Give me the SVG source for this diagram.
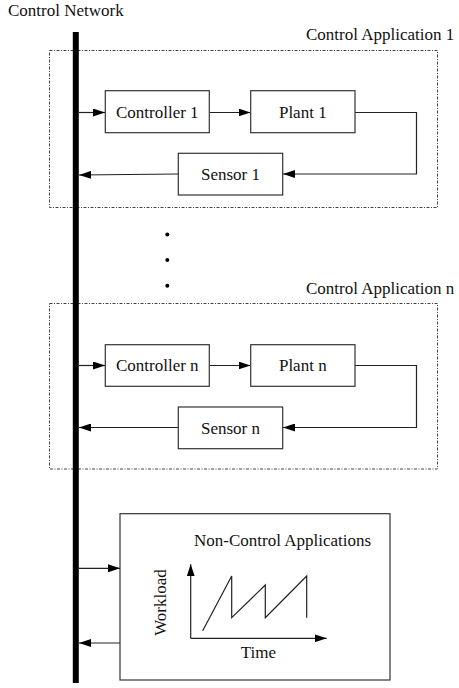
<svg xmlns="http://www.w3.org/2000/svg" width="459" height="688" viewBox="0 0 459 688">
<defs>
<style>
text{font-family:"Liberation Serif","Times New Roman",serif;font-size:17px;fill:#111}
.box{fill:#fff;stroke:#333;stroke-width:1.2}
.dash{fill:none;stroke:#444;stroke-width:1;stroke-dasharray:3 1.5 1 1.5}
.ln{fill:none;stroke:#222;stroke-width:1.2}
.c{text-anchor:middle}
</style>
<marker id="ah" viewBox="0 0 12 8" refX="12" refY="4" markerWidth="12" markerHeight="8" markerUnits="userSpaceOnUse" orient="auto">
<path d="M0,0 L12,4 L0,8 Z" fill="#000"/>
</marker>
</defs>
<rect width="459" height="688" fill="#fff"/>
<text x="8" y="16">Control Network</text>
<g id="app1">
<rect class="dash" x="49.5" y="50.5" width="388" height="157"/>
<text x="306" y="40">Control Application 1</text>
</g>
<g id="app2">
<rect class="dash" x="49.5" y="303.5" width="388" height="165.5"/>
<text x="306" y="294">Control Application n</text>
</g>
<g id="network"><rect x="72.8" y="32" width="6" height="651" fill="#000"/></g>
<g id="dots" fill="#000">
<circle cx="167.3" cy="234.5" r="2"/>
<circle cx="167.3" cy="260" r="2"/>
<circle cx="167.3" cy="285.7" r="2"/>
</g>
<g id="connectors">
<line class="ln" x1="79" y1="112.5" x2="105" y2="112.5" marker-end="url(#ah)"/>
<line class="ln" x1="209.5" y1="112.5" x2="250.5" y2="112.5" marker-end="url(#ah)"/>
<polyline class="ln" points="355,112.5 416.5,112.5 416.5,174 283,174" marker-end="url(#ah)"/>
<line class="ln" x1="178.3" y1="174" x2="79" y2="175" marker-end="url(#ah)"/>
<line class="ln" x1="79" y1="365.5" x2="105" y2="365.5" marker-end="url(#ah)"/>
<line class="ln" x1="209.5" y1="365.5" x2="250.5" y2="365.5" marker-end="url(#ah)"/>
<polyline class="ln" points="355,365.5 416.5,365.5 416.5,427.5 283,427.5" marker-end="url(#ah)"/>
<line class="ln" x1="178.3" y1="427.5" x2="79" y2="427.5" marker-end="url(#ah)"/>
<line class="ln" x1="79" y1="568.3" x2="120" y2="568.3" marker-end="url(#ah)"/>
<line class="ln" x1="120" y1="643" x2="79" y2="643" marker-end="url(#ah)"/>
</g>
<g id="controller1"><rect class="box" x="105.3" y="90.7" width="104" height="42"/><text class="c" x="157.3" y="117.5">Controller 1</text></g>
<g id="plant1"><rect class="box" x="250.7" y="90.7" width="104.3" height="42"/><text class="c" x="302.8" y="117.5">Plant 1</text></g>
<g id="sensor1"><rect class="box" x="178.3" y="153.3" width="104.4" height="41.7"/><text class="c" x="230.5" y="180">Sensor 1</text></g>
<g id="controllern"><rect class="box" x="105.3" y="344.7" width="104" height="41.6"/><text class="c" x="157.3" y="371">Controller n</text></g>
<g id="plantn"><rect class="box" x="250.7" y="344.7" width="104.3" height="41.6"/><text class="c" x="302.8" y="371">Plant n</text></g>
<g id="sensorn"><rect class="box" x="178.3" y="407" width="104.4" height="41.7"/><text class="c" x="230.5" y="433.5">Sensor n</text></g>
<g id="noncontrol">
<rect class="box" x="120" y="513.7" width="270" height="166.3"/>
<text x="194" y="546">Non-Control Applications</text>
<line class="ln" x1="190.7" y1="638.3" x2="190.7" y2="564.3" marker-end="url(#ah)"/>
<line class="ln" x1="190.7" y1="638.3" x2="326.7" y2="638.3" marker-end="url(#ah)"/>
<polyline class="ln" points="202.7,630.7 231.7,576 231.7,617.7 265.3,585 265.3,617.7 306.7,576 306.7,617.7"/>
<text class="c" transform="translate(165.5,602.5) rotate(-90)">Workload</text>
<text x="240.7" y="658">Time</text>
</g>
</svg>
